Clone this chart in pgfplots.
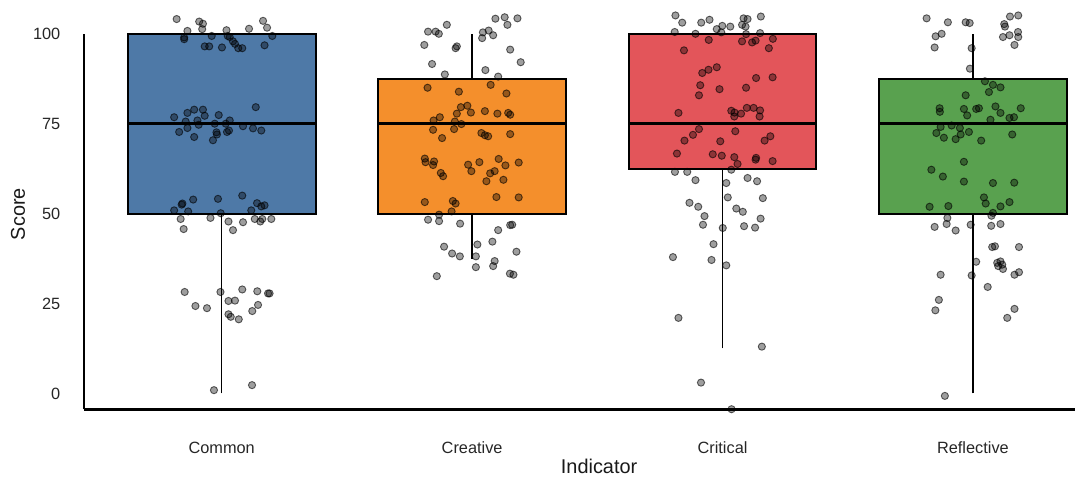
\documentclass[border=0pt]{standalone}
\usepackage{fontspec}
\setmainfont{Liberation Sans}
\usepackage{pgfplots}
\usepackage{pgfplotstable}
\pgfplotsset{compat=1.18}
\definecolor{cblue}{HTML}{4E79A7}
\definecolor{corange}{HTML}{F48F2C}
\definecolor{cred}{HTML}{E3555A}
\definecolor{cgreen}{HTML}{59A14F}

\pgfplotstableread{
x y
-0.18 104.1
-0.09 103.4
-0.075 102.8
0.165 103.6
-0.137 100.8
-0.078 101.3
0.019 101.0
0.109 101.4
0.181 101.7
-0.15 99.0
-0.15 98.5
-0.04 99.4
0.024 99.4
0.032 99.1
0.045 97.9
0.053 97.2
0.202 99.4
-0.068 96.5
-0.05 96.5
0.001 96.2
0.066 96.0
0.082 96.0
0.171 96.8
-0.19 76.8
-0.137 78.0
-0.11 78.9
-0.075 78.9
-0.068 77.2
-0.012 77.4
0.136 79.6
-0.144 75.6
-0.097 75.9
-0.092 74.7
-0.028 75.0
0.032 75.9
-0.17 72.7
-0.137 73.8
-0.11 71.3
-0.035 70.4
-0.021 72.6
-0.019 72.0
0.021 72.7
0.029 73.1
0.085 74.3
0.125 73.7
0.158 73.1
0.016 75.0
-0.19 50.9
-0.16 52.5
-0.157 52.8
-0.134 50.6
-0.114 53.9
-0.015 54.1
0.082 55.0
0.141 52.9
0.171 52.3
0.158 52.0
0.118 50.9
-0.004 50.1
-0.164 48.5
-0.152 45.7
-0.045 48.8
0.027 47.8
0.045 45.4
0.085 47.6
0.132 48.5
0.154 47.8
0.162 48.5
0.198 48.5
-0.148 28.2
-0.005 28.2
0.082 28.9
0.142 28.4
0.185 27.8
0.191 27.8
-0.105 24.3
-0.059 23.7
0.027 25.7
0.053 25.8
0.145 24.6
0.122 22.9
0.027 22.0
0.036 21.3
0.068 20.6
-0.031 0.9
0.121 2.3
}\commonpts

\pgfplotstableread{
x y
0.824 100.6
0.854 100.6
0.867 100.0
0.899 102.5
0.809 96.9
0.934 96.0
0.939 96.5
0.84 91.6
0.891 88.7
1.043 100.4
1.066 100.9
1.084 99.6
1.04 98.8
1.093 104.2
1.13 104.6
1.141 102.5
1.181 104.3
1.152 95.6
1.194 92.1
1.053 89.9
1.104 88.1
0.822 85.0
0.947 83.9
1.074 85.8
1.137 83.4
0.955 79.6
0.981 80.0
0.939 77.8
0.995 78.1
1.051 78.5
1.101 77.8
1.144 78.0
1.152 77.5
0.871 76.8
0.846 75.9
0.931 75.6
0.957 74.9
0.844 73.3
0.928 73.5
0.88 71.0
1.037 72.4
1.051 71.8
1.064 71.5
1.152 72.1
0.811 65.3
0.814 64.3
0.848 64.5
0.844 63.5
0.875 61.3
0.884 60.4
0.984 63.6
0.997 61.8
1.029 64.3
1.106 65.2
1.133 63.4
1.186 64.2
1.057 59.0
1.072 61.2
1.09 61.8
1.125 59.4
0.811 53.2
0.923 53.5
0.934 52.8
1.097 54.6
1.186 54.5
0.918 50.6
0.868 49.7
0.824 48.3
0.868 47.9
0.952 47.2
1.152 46.8
1.16 46.9
1.104 45.4
1.081 42.2
1.021 41.4
0.888 40.8
0.92 38.9
0.951 38.1
1.015 38.1
1.177 39.4
1.09 36.8
1.084 35.4
1.015 35.1
0.859 32.6
1.151 33.3
1.165 33.0
}\creativepts

\pgfplotstableread{
x y
1.812 105.1
1.839 103.1
1.915 103.1
1.948 103.9
1.809 100.5
1.892 100.0
1.977 101.3
1.999 102.2
2.031 102.0
2.084 104.3
2.1 104.1
2.153 104.8
2.078 102.5
2.092 102.0
2.15 100.2
2.094 99.9
1.995 100.4
1.846 95.4
1.945 98.3
2.078 97.9
2.118 97.6
2.132 98.1
2.201 98.6
2.185 96.0
1.919 89.1
1.944 90.0
1.977 90.7
1.911 85.7
1.906 82.9
1.988 84.6
2.094 85.0
2.134 87.7
2.2 87.9
1.824 78.0
2.035 78.6
2.048 78.1
2.074 77.8
2.047 77.0
2.097 79.4
2.124 79.4
2.15 78.7
2.148 77.0
1.906 73.5
1.882 71.9
1.848 70.3
2.051 72.9
1.991 70.1
2.168 70.3
2.191 71.5
1.818 66.7
1.961 66.5
1.997 66.1
2.047 65.7
2.134 65.5
2.132 65.0
2.2 64.6
2.06 63.8
1.81 61.6
1.859 61.6
1.892 59.3
2.015 58.5
2.035 62.2
2.1 59.9
2.138 59.0
2.021 54.5
2.161 54.3
1.868 53.0
1.903 51.9
2.055 51.4
2.081 50.5
1.928 49.3
1.922 46.9
2.001 46.0
2.086 46.5
2.13 46.1
2.152 48.6
1.964 41.5
1.802 37.9
1.956 37.1
2.015 35.6
1.824 21.0
2.157 13.0
1.914 3.0
2.036 -4.4
}\criticalpts

\pgfplotstableread{
x y
2.815 104.3
2.9 103.2
2.971 103.2
2.987 103.0
3.128 102.0
3.125 102.7
3.148 104.8
3.181 105.1
2.851 99.3
2.875 100.0
2.847 96.2
2.995 96.0
2.988 90.3
3.12 99.1
3.146 99.6
3.18 100.5
3.181 99.1
3.166 96.9
3.048 86.8
3.08 85.8
3.11 85.1
3.064 83.8
2.971 82.9
2.867 79.3
2.868 78.3
2.964 79.1
2.977 77.3
3.013 79.1
3.024 79.3
3.09 79.8
3.11 78.0
3.146 76.6
3.164 76.8
3.191 79.3
3.07 76.1
2.871 74.1
2.915 74.5
2.948 73.8
2.854 72.4
2.884 71.1
2.931 70.7
2.951 72.0
2.984 72.7
3.033 70.3
3.157 72.0
2.964 64.4
2.834 62.2
2.88 60.3
2.964 58.9
3.08 58.5
3.165 58.6
3.044 54.5
3.051 52.8
3.11 52.0
3.146 53.2
2.827 51.9
2.902 52.1
3.08 50.2
2.898 48.8
2.895 47.1
2.847 46.3
2.931 45.3
2.991 46.9
3.074 49.4
3.073 46.6
3.11 47.1
3.077 40.7
3.088 40.9
3.184 40.7
3.013 36.6
3.097 36.3
3.11 36.7
3.117 35.8
3.101 35.4
3.12 34.6
2.871 33.0
2.995 32.8
3.059 29.6
3.166 33.0
3.184 33.7
2.864 26.0
2.85 23.1
3.166 23.5
3.137 21.0
2.888 -0.7
}\reflectivepts

\begin{document}
\begin{tikzpicture}
\begin{axis}[
  scale only axis, width=496bp, height=188bp,
  xmin=-0.5505, xmax=3.4065, ymin=-4.44, ymax=100,
  axis x line*=bottom, axis y line*=left,
  axis line style={-, line width=1.3bp, black},
  xtick={0,1,2,3}, xticklabels={Common,Creative,Critical,Reflective},
  ytick={0,25,50,75,100},
  major tick length=0pt, tick style={draw=none},
  /pgf/number format/assume math mode=true,
  ticklabel style={font=\fontsize{8.2}{10}\selectfont, text=black!85},
  xticklabel style={yshift=-12.8bp},
  yticklabel style={xshift=-8.3bp},
  xlabel={Indicator}, ylabel={Score},
  label style={font=\fontsize{10}{12}\selectfont, text=black!90, inner sep=1pt},
  xlabel style={at={(axis description cs:0.52,-0.1516)}, anchor=center},
  ylabel style={at={(axis description cs:-0.0665,0.52)}, anchor=center},
  clip=false,
  box/.style={draw=black, line width=1bp},
  whisk/.style={black, line width=0.75bp, mark=none},
  med/.style={black, line width=1.8bp, mark=none},
  pts/.style={only marks, mark=*, mark size=1.8bp,
    mark options={fill=black, fill opacity=0.38, draw=black, draw opacity=0.6, line width=0.45bp}},
]
% Common: whiskers 0-100, quartiles 50/75/100
\addplot[whisk] coordinates {(0,0) (0,50)};
\addplot[box, fill=cblue] coordinates {(-0.375,50) (0.375,50) (0.375,100) (-0.375,100)} -- cycle;
\addplot[med] coordinates {(-0.375,75) (0.375,75)};
% Creative: whiskers 37.5-100, quartiles 50/75/87.5
\addplot[whisk] coordinates {(1,37.5) (1,50)};
\addplot[whisk] coordinates {(1,87.5) (1,100)};
\addplot[box, fill=corange] coordinates {(0.625,50) (1.375,50) (1.375,87.5) (0.625,87.5)} -- cycle;
\addplot[med] coordinates {(0.625,75) (1.375,75)};
% Critical: whiskers 12.5-100, quartiles 62.5/75/100
\addplot[whisk] coordinates {(2,12.5) (2,62.5)};
\addplot[box, fill=cred] coordinates {(1.625,62.5) (2.375,62.5) (2.375,100) (1.625,100)} -- cycle;
\addplot[med] coordinates {(1.625,75) (2.375,75)};
% Reflective: whiskers 0-100, quartiles 50/75/87.5
\addplot[whisk] coordinates {(3,0) (3,50)};
\addplot[whisk] coordinates {(3,87.5) (3,100)};
\addplot[box, fill=cgreen] coordinates {(2.625,50) (3.375,50) (3.375,87.5) (2.625,87.5)} -- cycle;
\addplot[med] coordinates {(2.625,75) (3.375,75)};
% jittered observations
\addplot[pts] table {\commonpts};
\addplot[pts] table {\creativepts};
\addplot[pts] table {\criticalpts};
\addplot[pts] table {\reflectivepts};
\path (axis cs:-0.8855,-24.6) rectangle (axis cs:3.4065,109.4);
\end{axis}
\end{tikzpicture}
\end{document}
